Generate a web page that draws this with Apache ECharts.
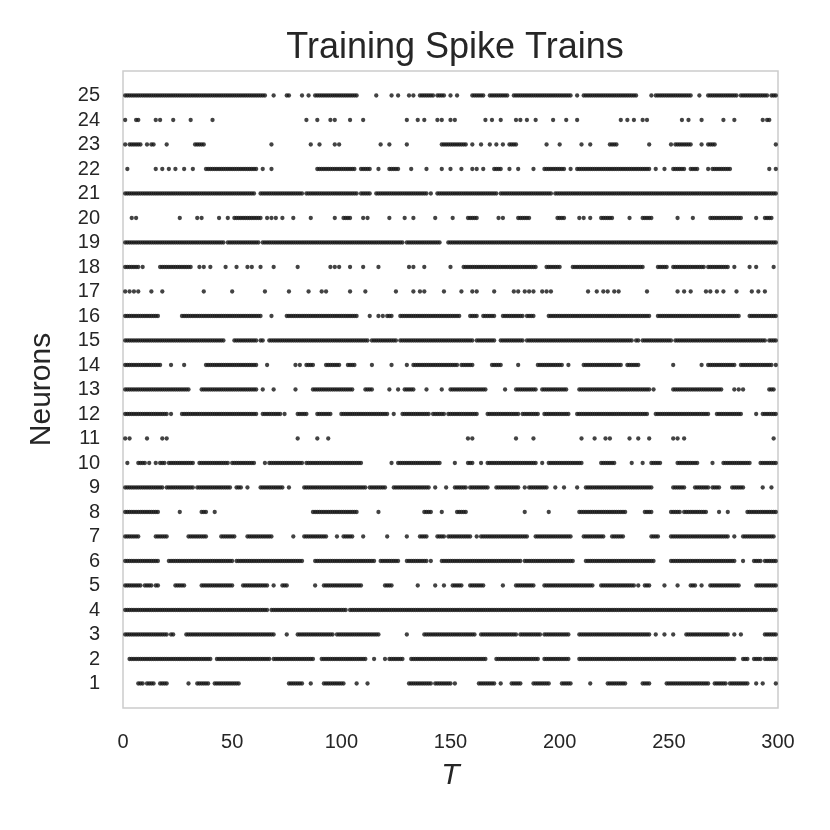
<!DOCTYPE html>
<html>
<head>
<meta charset="utf-8">
<script src="https://cdn.jsdelivr.net/npm/echarts@6/dist/echarts.min.js"></script>
<style>
  html, body { margin: 0; padding: 0; background: #ffffff; }
  #chart { width: 830px; height: 830px; }
</style>
</head>
<body>
<div id="chart"></div>
<script>
// Neuron ids (y categories) and x tick values
const neuronIds = [1,2,3,4,5,6,7,8,9,10,11,12,13,14,15,16,17,18,19,20,21,22,23,24,25];
const xTicks = [0, 50, 100, 150, 200, 250, 300];

// Spike times, one string per neuron (1..25).
// "a-b" = a solid run of spikes at every time step from a to b; single numbers = isolated spikes.
const spikeRuns = [
  "7-9 11-14 17-20 30 34-39 42-53 76-82 86 92-101 107 112 131-141 143-150 152 163-170 173 178-182 188-195 201-205 214 222-230 238-241 249-268 271-276 278-286 290 293 299",
  "3-40 43-67 69-87 91-111 115 120 122-128 132-166 171-190 193-204 209-280 284-286 289-292 294-299",
  "1-20 22-23 29-69 75 80-96 98-117 130 138-161 164-180 182-191 193-204 209-241 244 248 252 258-277 280 283 294-299",
  "1-66 68-102 104-299",
  "1-8 10-13 15-16 24-28 36-50 55-66 69 73-75 88 92-109 120-123 135 143 147 151-155 159-165 174 180-188 193-215 219-234 236 239-241 248 254 260-262 265 269-282 290-299",
  "1-16 21-50 52-82 88-115 118-126 130-139 141 146-182 184-206 212-243 251-280 284 289-292 294-299",
  "1-7 15-20 30-38 45-51 57-68 78 83-93 98 101-105 110 121 130 136-139 144-147 149-159 162 164-185 189-205 211-220 224-229 242-245 251-277 280 284-298",
  "1-16 26 36-38 42 87-107 117 138-141 146 153-157 184 195 209-230 239-242 251-255 257-267 273 277 286-299",
  "1-18 20-32 34-49 52-54 57 63-73 76 83-111 113-120 124-140 143 148 152-157 159-167 171-181 184 186-194 198 202 208 212-242 252-257 262-268 270-273 279-284 293 297",
  "2 7-10 12 15 17-19 21-32 35-48 50-60 65 67-82 84-109 123 126-145 152 158-160 164 167-189 192 195-210 219-225 233 238 242-246 254-263 270 275-287 292-299",
  "1 3 11 18 20 80 89 94 158 160 180 188 210 216 221 223 232 236 241 252 254 257 298",
  "1-20 22 27-61 64-72 74 80-84 89-95 100-121 124 128-140 142-147 149-162 167-181 183-190 193-204 208-240 244-268 272-283 290 293-299",
  "1-30 36-61 64 69 79 87-105 111-114 122 126 129-133 139 146 150-166 175 180-189 192-203 209-241 243 252-274 280 282 284 296-298",
  "1-17 22 28 38-61 66 79 81 84-87 93-99 103-106 114 123 130 133-153 155-160 169-173 181 190-201 204 211-228 231-236 252 265 268-280 283-297 299",
  "1-46 51-61 63-64 67-112 114-125 127-160 162-170 173-183 185-233 235-236 238-251 253-294 296-299",
  "1-16 27-63 68 75-107 113 117 119 121-123 127-154 159-162 165-170 174-183 185-188 195-241 245-282 287-299",
  "1 3 5 7 13 18 37 50 65 76 85 91 93 104 111 125 133 136 138 147 155 160 162 170 179 181 184 186 188 192 194 196 213 217 220 222 225 227 240 254 257 260 267 269 272 275 281 288 291 294",
  "1-7 9 17-31 35 37 40 47 52 57 59 63 69 80 95 97 99 104 110 117 131 133 138 150 156-189 194-200 206-238 245-249 252-266 268-277 280 287 290 298",
  "1-46 48-62 64-128 130-145 149-299",
  "4 6 26 34 36 44 48 51-63 66 68 70 73 78 86 97 101-104 110 112 122 129 133 143 151 158-162 172 174 181-186 199-202 209 211 214 219-224 232 238-242 254 261 269-283 290 294-297",
  "1-60 63-82 84-107 109-113 116-139 141 144-171 173-196 198-299",
  "2 15 18 21 24 28 32 38-61 64 68 89-106 109-113 117 122-126 132 139 146 150 155 160 162 165 170-173 177 181 188 193-202 205 208-241 244 248 252-257 260-263 268 270-278 296 299",
  "1 3-8 11 13-14 20 33-37 68 86 90 97 99 118 122 130 146-157 160 164 168 171 174 177-180 194 200 210 214 223-226 241 251 253-260 265 268-271 299",
  "1 6-7 15 17 23 31 41 84 89 95 97 104 110 130 135 138 144 146 150 152 166 169 173 180 182 185 189 197 203 208 228 231 234 238 240 256 259 265 275 280 293 295-296",
  "1-65 69 75-76 82 85 88-107 116 123 126 131 133 136-142 144-147 150 153 160-165 168-176 179-205 208 211-235 242 244-260 264 268-281 283-295 297-299"
];

// Build [time, neuron] points from the read spike lists
const points = [];
spikeRuns.forEach((s, i) => {
  const n = neuronIds[i];
  s.trim().split(/\s+/).forEach(tok => {
    const parts = tok.split('-').map(Number);
    const a = parts[0], b = parts.length > 1 ? parts[1] : parts[0];
    for (let t = a; t <= b; t++) points.push([t, n]);
  });
});

const FONT = 'Liberation Sans, Arial, sans-serif';
const TXT = '#262626';

const chart = echarts.init(document.getElementById('chart'), null, { renderer: 'canvas' });
chart.setOption({
  animation: false,
  backgroundColor: '#ffffff',
  title: {
    text: 'Training Spike Trains',
    left: 450,
    top: 25,
    textAlign: 'center',
    textStyle: { fontFamily: FONT, fontSize: 36, fontWeight: 'normal', color: TXT }
  },
  grid: {
    left: 123, right: 52, top: 71, bottom: 122,
    show: true, borderColor: '#cccccc', borderWidth: 1.5, backgroundColor: 'transparent'
  },
  xAxis: {
    type: 'value', min: xTicks[0], max: xTicks[xTicks.length - 1], interval: 50,
    name: 'T', nameLocation: 'middle', nameGap: 53,
    nameTextStyle: { fontFamily: FONT, fontSize: 30, fontStyle: 'italic', color: TXT },
    axisLine: { show: false }, axisTick: { show: false }, splitLine: { show: false },
    axisLabel: { fontFamily: FONT, fontSize: 20, color: TXT, margin: 24 }
  },
  yAxis: {
    type: 'value', min: 0, max: 26, interval: 1,
    name: 'Neurons', nameLocation: 'middle', nameGap: 66,
    nameTextStyle: { fontFamily: FONT, fontSize: 30, color: TXT },
    axisLine: { show: false }, axisTick: { show: false }, splitLine: { show: false },
    axisLabel: {
      fontFamily: FONT, fontSize: 20, color: TXT, margin: 23,
      formatter: v => (neuronIds.indexOf(v) >= 0 ? String(v) : '')
    }
  },
  series: [{
    type: 'scatter',
    data: points,
    symbol: 'circle',
    symbolSize: 4.3,
    itemStyle: { color: '#141414' },
    silent: true,
    large: false
  }]
});
</script>
</body>
</html>
